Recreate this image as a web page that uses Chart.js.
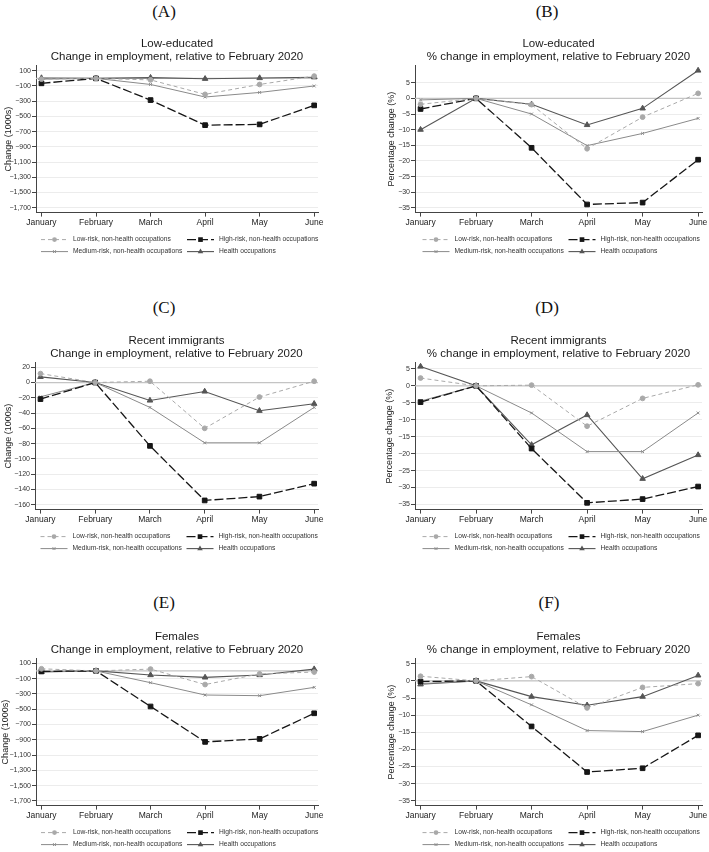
<!DOCTYPE html>
<html>
<head>
<meta charset="utf-8">
<script src="https://cdn.jsdelivr.net/npm/chart.js@4.4.1/dist/chart.umd.min.js"></script>
<style>
html, body { margin: 0; padding: 0; background: #fff; }
body { width: 709px; height: 852px; position: relative; overflow: hidden; }
.panel-label {
    position: absolute; width: 60px; margin-left: -30px; text-align: center;
    font-family: 'Liberation Serif', 'DejaVu Serif', serif; font-size: 17px; line-height: 17px; color: #111;
}
canvas { position: absolute; }
</style>
</head>
<body>
<script>
// ---------------- data ----------------
const months = ['January', 'February', 'March', 'April', 'May', 'June'];
const seriesLabels = [
    'Low-risk, non-health occupations',
    'High-risk, non-health occupations',
    'Medium-risk, non-health occupations',
    'Health occupations',
];

// (A) low-educated, change in 1000s
const lowA    = [-10, 0, -20, -210, -80, 30];
const highA   = [-65, 0, -285, -615, -605, -355];
const medA    = [-10, 0, -80, -245, -185, -100];
const healthA = [5, 0, 10, -5, 5, 15];

// (B) low-educated, % change
const lowB    = [-1.9, 0, -2.0, -16.1, -6.0, 1.6];
const highB   = [-3.4, 0, -15.8, -33.9, -33.3, -19.6];
const medB    = [-0.5, 0, -5.0, -15.1, -11.2, -6.4];
const healthB = [-10.0, 0, -1.9, -8.5, -3.2, 8.9];

// (C) recent immigrants, change in 1000s
const lowC    = [11.7, 0, 1.7, -60, -19, 1.7];
const highC   = [-21.7, 0, -83, -154.5, -149.5, -132.5];
const medC    = [-18.7, 0, -32.6, -79, -79, -32.6];
const healthC = [7.4, 0, -23.5, -11.7, -37, -27.8];

// (D) recent immigrants, % change
const lowD    = [2.3, 0, 0.2, -11.9, -3.7, 0.3];
const highD   = [-4.8, 0, -18.5, -34.5, -33.4, -29.7];
const medD    = [-4.5, 0, -8.0, -19.4, -19.4, -8.0];
const healthD = [5.7, 0, -17.4, -8.6, -27.4, -20.4];

// (E) females, change in 1000s
const lowE    = [28, 0, 24, -178, -39, -15];
const highE   = [-7, 0, -465, -928, -889, -554];
const medE    = [-15, 0, -154, -315, -324, -215];
const healthE = [-11, 0, -54, -85, -54, 24];

// (F) females, % change
const lowF    = [1.35, 0, 1.25, -7.9, -1.9, -0.8];
const highF   = [-0.2, 0, -13.3, -26.6, -25.5, -15.9];
const medF    = [-0.8, 0, -7.0, -14.5, -14.8, -10.0];
const healthF = [-1.0, 0, -4.6, -7.1, -4.6, 1.6];

// tick labels
const ticksThousands = [100, -100, -300, -500, -700, -900, -1100, -1300, -1500, -1700];
const ticksImm       = [20, 0, -20, -40, -60, -80, -100, -120, -140, -160];
const ticksPct       = [5, 0, -5, -10, -15, -20, -25, -30, -35];

// ---------------- styles ----------------
Chart.defaults.font.family = "'Liberation Sans', Arial, sans-serif";

const STYLES = [
    { color: '#a9a9a9', dash: [4, 3], width: 1,   point: 'circle',   r: 2.4 },
    { color: '#161616', dash: [9, 3], width: 1.3, point: 'rect',     r: 3.3 },
    { color: '#8a8a8a', dash: [],     width: 1,   point: 'crossRot', r: 2 },
    { color: '#555555', dash: [],     width: 1.1, point: 'triangle', r: 3.2 },
];

const PANEL_H = 222;
const PAD_BOTTOM = 28.4;

function fmtTick(v) {
    const s = Math.abs(v).toLocaleString('en-US');
    return v < 0 ? '\u2212' + s : s;
}

function drawMarker(ctx, st, x, y) {
    const r = st.r;
    ctx.save();
    ctx.setLineDash([]);
    ctx.fillStyle = st.color;
    ctx.strokeStyle = st.color;
    ctx.lineWidth = 1;
    ctx.beginPath();
    if (st.point === 'circle') {
        ctx.arc(x, y, r, 0, Math.PI * 2);
        ctx.fill();
    } else if (st.point === 'rect') {
        const s = r * Math.SQRT1_2;
        ctx.rect(x - s, y - s, 2 * s, 2 * s);
        ctx.fill();
    } else if (st.point === 'triangle') {
        const h = r * Math.sin(Math.PI / 3);
        ctx.moveTo(x, y - r);
        ctx.lineTo(x - h, y + r / 2);
        ctx.lineTo(x + h, y + r / 2);
        ctx.closePath();
        ctx.fill();
    } else {
        const s = r * Math.SQRT1_2;
        ctx.moveTo(x - s, y - s); ctx.lineTo(x + s, y + s);
        ctx.moveTo(x + s, y - s); ctx.lineTo(x - s, y + s);
        ctx.stroke();
    }
    ctx.restore();
}

// gray reference line at zero
const zeroLine = {
    id: 'zeroLine',
    beforeDatasetsDraw(chart) {
        const { ctx, chartArea: a, scales: { y } } = chart;
        const py = y.getPixelForValue(0);
        ctx.save();
        ctx.strokeStyle = '#c4c4c4';
        ctx.lineWidth = 1.2;
        ctx.beginPath();
        ctx.moveTo(a.left, py);
        ctx.lineTo(a.right, py);
        ctx.stroke();
        ctx.restore();
    },
};

// two-column legend under the plot, line + marker like Stata
const stataLegend = {
    id: 'stataLegend',
    afterDraw(chart) {
        const { ctx, chartArea: a } = chart;
        const cx = (a.left + a.right) / 2;
        const slots = [
            { i: 0, sx: cx - 136, tx: cx - 104, y: a.bottom + 27 },
            { i: 1, sx: cx + 10,  tx: cx + 42,  y: a.bottom + 27 },
            { i: 2, sx: cx - 136, tx: cx - 104, y: a.bottom + 39 },
            { i: 3, sx: cx + 10,  tx: cx + 42,  y: a.bottom + 39 },
        ];
        ctx.save();
        slots.forEach(s => {
            const st = STYLES[s.i];
            ctx.strokeStyle = st.color;
            ctx.lineWidth = st.width;
            ctx.setLineDash(st.dash);
            ctx.beginPath();
            ctx.moveTo(s.sx, s.y);
            ctx.lineTo(s.sx + 27, s.y);
            ctx.stroke();
            drawMarker(ctx, st, s.sx + 13.5, s.y);
            ctx.setLineDash([]);
            ctx.fillStyle = '#333';
            ctx.font = "6.7px 'Liberation Sans', Arial, sans-serif";
            ctx.textBaseline = 'middle';
            ctx.textAlign = 'left';
            ctx.fillText(seriesLabels[s.i], s.tx, s.y);
        });
        ctx.restore();
    },
};

// ---------------- panels ----------------
const panels = [
    { tag: '(A)', lx: 164, ly: 11,  left: 0,   top: 37,  width: 330, padRight: 12, yWidth: 36, yTitlePad: 2.9,
      yTitle: 'Change (1000s)', title: ['Low-educated', 'Change in employment, relative to February 2020'],
      ticks: ticksThousands, min: -1765, max: 168, series: [lowA, highA, medA, healthA] },
    { tag: '(B)', lx: 547, ly: 11,  left: 354, top: 37,  width: 355, padRight: 7,  yWidth: 61, yTitlePad: 31.9,
      yTitle: 'Percentage change (%)', title: ['Low-educated', '% change in employment, relative to February 2020'],
      ticks: ticksPct, min: -36.5, max: 10.46, series: [lowB, highB, medB, healthB] },
    { tag: '(C)', lx: 164, ly: 307, left: 0,   top: 334, width: 330, padRight: 12, yWidth: 35, yTitlePad: 2.9,
      yTitle: 'Change (1000s)', title: ['Recent immigrants', 'Change in employment, relative to February 2020'],
      ticks: ticksImm, min: -166.5, max: 26.1, series: [lowC, highC, medC, healthC] },
    { tag: '(D)', lx: 547, ly: 307, left: 354, top: 334, width: 355, padRight: 7,  yWidth: 61, yTitlePad: 30.3,
      yTitle: 'Percentage change (%)', title: ['Recent immigrants', '% change in employment, relative to February 2020'],
      ticks: ticksPct, min: -36.5, max: 6.85, series: [lowD, highD, medD, healthD] },
    { tag: '(E)', lx: 164, ly: 602, left: 0,   top: 630, width: 330, padRight: 12, yWidth: 36, yTitlePad: 0,
      yTitle: 'Change (1000s)', title: ['Females', 'Change in employment, relative to February 2020'],
      ticks: ticksThousands, min: -1761, max: 161, series: [lowE, highE, medE, healthE] },
    { tag: '(F)', lx: 549, ly: 602, left: 354, top: 630, width: 355, padRight: 7,  yWidth: 61, yTitlePad: 32.6,
      yTitle: 'Percentage change (%)', title: ['Females', '% change in employment, relative to February 2020'],
      ticks: ticksPct, min: -36.4, max: 6.5, series: [lowF, highF, medF, healthF] },
];

function makePanel(p) {
    const lab = document.createElement('div');
    lab.className = 'panel-label';
    lab.textContent = p.tag;
    lab.style.left = p.lx + 'px';
    lab.style.top = (p.ly - 8.5) + 'px';
    document.body.appendChild(lab);

    const cv = document.createElement('canvas');
    cv.width = p.width;
    cv.height = PANEL_H;
    cv.style.left = p.left + 'px';
    cv.style.top = p.top + 'px';
    document.body.appendChild(cv);

    const datasets = p.series.map((vals, i) => {
        const st = STYLES[i];
        return {
            label: seriesLabels[i],
            data: vals.map((v, k) => ({ x: k, y: v })),
            borderColor: st.color,
            backgroundColor: st.color,
            borderWidth: st.width,
            borderDash: st.dash,
            pointStyle: st.point,
            pointRadius: st.r,
            pointBorderWidth: 1,
            pointBackgroundColor: st.color,
            pointBorderColor: st.color,
            tension: 0,
            fill: false,
        };
    });

    new Chart(cv, {
        type: 'line',
        data: { datasets },
        options: {
            responsive: false,
            animation: false,
            devicePixelRatio: 1,
            layout: { padding: { top: 0, left: 0, right: p.padRight, bottom: PAD_BOTTOM } },
            plugins: {
                legend: { display: false },
                tooltip: { enabled: false },
                title: {
                    display: true,
                    text: p.title,
                    fullSize: false,
                    color: '#1a1a1a',
                    font: { size: 11.5, weight: 'normal', lineHeight: 1.07 },
                    padding: { top: 1, bottom: 3 },
                },
            },
            scales: {
                x: {
                    type: 'linear',
                    min: -0.1,
                    max: 5.07,
                    afterBuildTicks: s => { s.ticks = months.map((m, i) => ({ value: i })); },
                    afterFit: s => { s.height = 18; },
                    ticks: { callback: v => months[v], font: { size: 8.5 }, color: '#222', padding: 1, maxRotation: 0, autoSkip: false },
                    grid: { drawOnChartArea: false, tickLength: 4, tickColor: '#444' },
                    border: { color: '#444' },
                },
                y: {
                    min: p.min,
                    max: p.max,
                    afterBuildTicks: s => { s.ticks = p.ticks.slice().sort((a, b) => a - b).map(v => ({ value: v })); },
                    afterFit: s => { s.width = p.yWidth; },
                    ticks: { callback: fmtTick, font: { size: 7 }, color: '#333', padding: 1 },
                    grid: { color: '#ececec', tickLength: 4, tickColor: '#444' },
                    border: { color: '#444' },
                    title: { display: true, text: p.yTitle, font: { size: 9 }, color: '#222', padding: { top: p.yTitlePad, bottom: 0 } },
                },
            },
        },
        plugins: [zeroLine, stataLegend],
    });
}

panels.forEach(makePanel);
</script>
</body>
</html>
